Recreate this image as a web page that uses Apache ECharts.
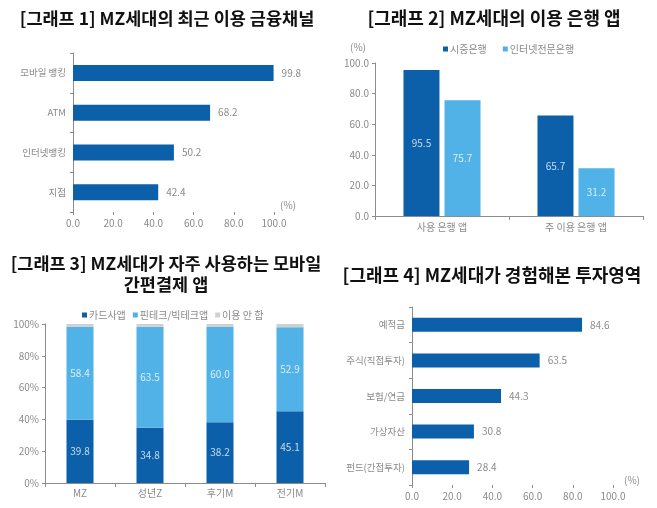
<!DOCTYPE html>
<html>
<head>
<meta charset="utf-8">
<script src="https://cdn.jsdelivr.net/npm/echarts@6/dist/echarts.min.js"></script>
<style>
  html, body { margin: 0; padding: 0; background: #fff; }
  #chart { width: 657px; height: 508px; }
</style>
</head>
<body>
<div id="chart"></div>
<script>
// 그래프 1
const channelNames = ['모바일 뱅킹', 'ATM', '인터넷뱅킹', '지점']
const channelValues = [99.8, 68.2, 50.2, 42.4]
// 그래프 2
const bankAppCats = ['사용 은행 앱', '주 이용 은행 앱']
const commercialBank = [95.5, 65.7]
const internetBank = [75.7, 31.2]
// 그래프 3
const payGroups = ['MZ', '성년Z', '후기M', '전기M']
const cardApp = [39.8, 34.8, 38.2, 45.1]
const fintechApp = [58.4, 63.5, 60.0, 52.9]
const noUse = [1.8, 1.7, 1.8, 2.0]
// 그래프 4
const investNames = ['예적금', '주식(직접투자)', '보험/연금', '가상자산', '펀드(간접투자)']
const investValues = [84.6, 63.5, 44.3, 30.8, 28.4]

const DARK = '#0b60a9'
const LIGHT = '#50b2e6'
const GRAY = '#cfd0d2'
const AXIS = '#8c8c8c'
const LABEL = '#8a8a8a'
const FONT = '"Noto Sans CJK KR", sans-serif'

const chart = echarts.init(document.getElementById('chart'))

const titleStyle = (x, y, text, size) => ({
  type: 'text',
  x: x,
  y: y,
  style: {
    text: text,
    fill: '#111',
    font: 'bold ' + size + 'px ' + FONT,
    textAlign: 'center',
    textVerticalAlign: 'middle',
    lineHeight: 21,
  },
})
const smallText = (x, y, text) => ({
  type: 'text',
  x: x,
  y: y,
  style: { text: text, fill: LABEL, font: '10px ' + FONT, textAlign: 'center', textVerticalAlign: 'middle' },
})

const labelText = { color: LABEL, fontSize: 10, fontFamily: FONT }
const line = { show: true, lineStyle: { color: AXIS } }
const tick = { show: true, lineStyle: { color: AXIS }, length: 3 }

const valueAxis = (gridIndex, fmt) => ({
  type: 'value',
  gridIndex: gridIndex,
  min: 0,
  max: 100,
  interval: 20,
  splitLine: { show: false },
  axisLabel: Object.assign({ margin: 6, formatter: fmt }, labelText),
})

const option = {
  animation: false,
  textStyle: { fontFamily: FONT },
  grid: [
    { left: 73, top: 53, width: 201, height: 159 },
    { left: 375, top: 63, width: 268, height: 153 },
    { left: 45, top: 324, width: 280, height: 159 },
    { left: 412, top: 307, width: 201, height: 178 },
  ],
  legend: [
    {
      data: ['시중은행', '인터넷전문은행'],
      left: 438, top: 39,
      icon: 'rect', itemWidth: 5, itemHeight: 5, itemGap: 16,
      textStyle: { color: LABEL, fontSize: 10, fontFamily: FONT, padding: [0, 0, 0, -3] },
    },
    {
      data: ['카드사앱', '핀테크/빅테크앱', '이용 안 함'],
      left: 77, top: 305,
      icon: 'rect', itemWidth: 5, itemHeight: 5, itemGap: 7,
      textStyle: { color: LABEL, fontSize: 10, fontFamily: FONT, padding: [0, 0, 0, -3] },
    },
  ],
  xAxis: [
    Object.assign(valueAxis(0, v => v.toFixed(1)), { axisLine: { show: false }, axisTick: tick }),
    {
      type: 'category', gridIndex: 1, data: bankAppCats,
      axisLine: line, axisTick: Object.assign({}, tick, { length: 4 }),
      axisLabel: Object.assign({ margin: 6 }, labelText),
    },
    {
      type: 'category', gridIndex: 2, data: payGroups,
      axisLine: line, axisTick: Object.assign({}, tick, { length: 4 }),
      axisLabel: Object.assign({ margin: 5 }, labelText),
    },
    Object.assign(valueAxis(3, v => v.toFixed(1)), { axisLine: { show: false }, axisTick: tick }),
  ],
  yAxis: [
    {
      type: 'category', gridIndex: 0, data: channelNames, inverse: true,
      axisLine: line, axisTick: tick,
      axisLabel: Object.assign({ margin: 7 }, labelText, { fontSize: 9.5 }),
    },
    Object.assign(valueAxis(1, v => v.toFixed(1)), { axisLine: line, axisTick: tick }),
    Object.assign(valueAxis(2, '{value}%'), { axisLine: line, axisTick: tick }),
    {
      type: 'category', gridIndex: 3, data: investNames, inverse: true,
      axisLine: line, axisTick: tick,
      axisLabel: Object.assign({ margin: 7 }, labelText, { fontSize: 9.5 }),
    },
  ],
  series: [
    {
      name: '금융채널', type: 'bar', xAxisIndex: 0, yAxisIndex: 0,
      data: channelValues, barWidth: 16, itemStyle: { color: DARK },
      label: { show: true, position: 'right', distance: 8, color: LABEL, fontSize: 10, formatter: p => p.value.toFixed(1) },
    },
    {
      name: '시중은행', type: 'bar', xAxisIndex: 1, yAxisIndex: 1,
      data: commercialBank, barWidth: 36, barGap: '14%', itemStyle: { color: DARK },
      label: { show: true, position: 'inside', color: '#c9dcee', fontSize: 10, formatter: p => p.value.toFixed(1) },
    },
    {
      name: '인터넷전문은행', type: 'bar', xAxisIndex: 1, yAxisIndex: 1,
      data: internetBank, barWidth: 36, barGap: '14%', itemStyle: { color: LIGHT },
      label: { show: true, position: 'inside', color: '#dcedf8', fontSize: 10, formatter: p => p.value.toFixed(1) },
    },
    {
      name: '카드사앱', type: 'bar', xAxisIndex: 2, yAxisIndex: 2, stack: 'pay',
      data: cardApp, barWidth: 27, itemStyle: { color: DARK },
      label: { show: true, position: 'inside', color: '#c9dcee', fontSize: 10, formatter: p => p.value.toFixed(1) },
    },
    {
      name: '핀테크/빅테크앱', type: 'bar', xAxisIndex: 2, yAxisIndex: 2, stack: 'pay',
      data: fintechApp, barWidth: 27, itemStyle: { color: LIGHT },
      label: { show: true, position: 'inside', color: '#dcedf8', fontSize: 10, formatter: p => p.value.toFixed(1) },
    },
    {
      name: '이용 안 함', type: 'bar', xAxisIndex: 2, yAxisIndex: 2, stack: 'pay',
      data: noUse, barWidth: 27, itemStyle: { color: GRAY },
    },
    {
      name: '투자영역', type: 'bar', xAxisIndex: 3, yAxisIndex: 3,
      data: investValues, barWidth: 14, itemStyle: { color: DARK },
      label: { show: true, position: 'right', distance: 8, color: LABEL, fontSize: 10, formatter: p => p.value.toFixed(1) },
    },
  ],
  graphic: [
    titleStyle(167, 18, '[그래프 1] MZ세대의 최근 이용 금융채널', 17.5),
    titleStyle(494, 18, '[그래프 2] MZ세대의 이용 은행 앱', 18),
    titleStyle(166, 274, '[그래프 3] MZ세대가 자주 사용하는 모바일\n간편결제 앱', 17.5),
    titleStyle(492, 275, '[그래프 4] MZ세대가 경험해본 투자영역', 18),
    smallText(288, 205, '(%)'),
    smallText(358, 47, '(%)'),
    smallText(632, 480, '(%)'),
  ],
}

chart.setOption(option)
</script>
</body>
</html>
